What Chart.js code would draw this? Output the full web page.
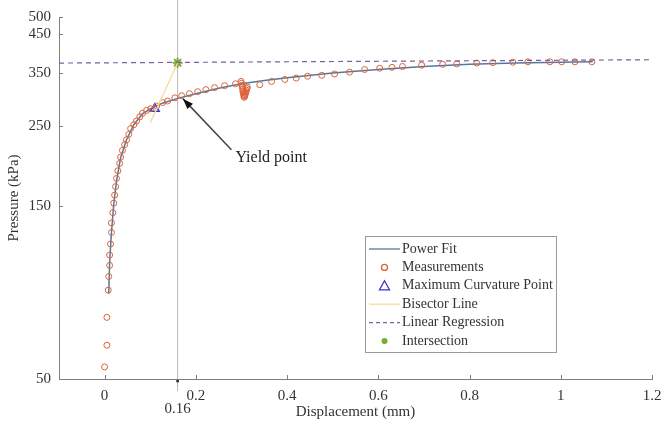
<!DOCTYPE html>
<html>
<head>
<meta charset="utf-8">
<script src="https://cdn.jsdelivr.net/npm/chart.js@4.4.0/dist/chart.umd.min.js"></script>
<style>
  body { margin: 0; background: #fff; }
  #wrap { width: 665px; height: 435px; }
</style>
</head>
<body>
<div id="wrap"><canvas id="myChart" width="665" height="435"></canvas></div>
<script>
// displacement (mm) / pressure (kPa)
var measX = [0.000, 0.005, 0.005, 0.008, 0.009, 0.011, 0.011, 0.013, 0.015, 0.015, 0.018, 0.020, 0.022, 0.024, 0.026, 0.029,
  0.033, 0.035, 0.039, 0.044, 0.048, 0.053, 0.057, 0.064, 0.070, 0.077, 0.083, 0.092, 0.101, 0.114, 0.127, 0.138,
  0.154, 0.169, 0.186, 0.204, 0.222, 0.241, 0.263, 0.287,
  0.299, 0.300, 0.301, 0.302, 0.303, 0.303, 0.304, 0.305, 0.305, 0.306, 0.307, 0.308, 0.309, 0.310, 0.311, 0.312, 0.313,
  0.340, 0.366, 0.395, 0.420, 0.445, 0.476, 0.504, 0.537, 0.570, 0.603, 0.630, 0.653, 0.695, 0.741, 0.772,
  0.816, 0.851, 0.895, 0.928, 0.976, 1.002, 1.031, 1.068];
var measY = [54, 62, 74, 88, 96, 103, 110, 118, 127, 135, 144, 153, 161, 170, 179, 188,
  197, 205, 214, 222, 229, 237, 246, 252, 258, 265, 271, 276, 279, 284, 290, 293,
  299, 303, 307, 311, 315, 319, 323, 327,
  332, 328, 324, 320, 316, 312, 309, 306, 303, 300, 302, 305, 308, 311, 314, 317, 320,
  325, 332, 336, 339, 343, 345, 348, 352, 358, 361, 363, 365, 368, 370, 371,
  373, 374, 375, 376, 376, 376, 376, 376];

var fitX = [0.009, 0.011, 0.015, 0.020, 0.026, 0.035, 0.048, 0.064, 0.083, 0.101, 0.127, 0.160, 0.200, 0.250, 0.300, 0.350,
  0.400, 0.500, 0.600, 0.700, 0.800, 0.900, 1.000, 1.070];
var fitY = [86, 105, 127, 152, 176, 204, 229, 252, 270, 279, 289, 298, 307, 318, 327, 334,
  340, 350, 358, 365, 370, 373, 375, 376];

var maxCurv = [0.11, 279];
var bisectX = [0.10, 0.16];
var bisectY = [255, 373];
var regX = [-0.1, 1.2];
var regY = [373, 381];
var intersect = [0.16, 374];
var yieldX = 0.16;

var xTicks = [0, 0.2, 0.4, 0.6, 0.8, 1, 1.2];
var yTicks = [50, 150, 250, 350, 450, 500];

function pts(xs, ys) {
  return xs.map(function(x, i) { return {x: x, y: ys[i]}; });
}

var serif = "'Liberation Serif', 'DejaVu Serif', serif";
var cFit = '#5577a0';
var cMeas = '#dc623a';
var cTri = '#3a2fd0';
var cBis = '#f1dd9c';
var cReg = '#7f5f9a';
var cInt = '#77ac30';

var overlay = {
  id: 'overlay',
  beforeDatasetsDraw: function(chart) {
    var ctx = chart.ctx, xs = chart.scales.x;
    var px = xs.getPixelForValue(yieldX);
    ctx.save();
    ctx.strokeStyle = '#b8b8b8';
    ctx.lineWidth = 1;
    ctx.beginPath();
    ctx.moveTo(px, 0);
    ctx.lineTo(px, chart.chartArea.bottom + 12);
    ctx.stroke();
    ctx.restore();
  },
  afterDraw: function(chart) {
    var ctx = chart.ctx, xs = chart.scales.x, ys = chart.scales.y, a = chart.chartArea;
    ctx.save();
    // inward tick marks
    ctx.strokeStyle = '#808080';
    ctx.lineWidth = 1;
    xTicks.forEach(function(v) {
      var p = Math.round(xs.getPixelForValue(v)) + 0.5;
      ctx.beginPath(); ctx.moveTo(p, a.bottom); ctx.lineTo(p, a.bottom - 4); ctx.stroke();
    });
    yTicks.forEach(function(v) {
      var p = Math.round(ys.getPixelForValue(v)) + 0.5;
      ctx.beginPath(); ctx.moveTo(a.left, p); ctx.lineTo(a.left + 4, p); ctx.stroke();
    });
    // 0.16 marker
    var px = xs.getPixelForValue(yieldX);
    ctx.fillStyle = '#333';
    ctx.beginPath(); ctx.arc(px, a.bottom + 2, 1.5, 0, Math.PI * 2); ctx.fill();
    ctx.font = '15px ' + serif;
    ctx.textAlign = 'center';
    ctx.textBaseline = 'middle';
    ctx.fillText('0.16', px, a.bottom + 30);

    // yield point arrow
    var tx = xs.getPixelForValue(0.172), ty = ys.getPixelForValue(297);
    var sx = xs.getPixelForValue(0.278), sy = ys.getPixelForValue(215);
    ctx.strokeStyle = '#444';
    ctx.lineWidth = 1.5;
    ctx.beginPath(); ctx.moveTo(sx, sy); ctx.lineTo(tx, ty); ctx.stroke();
    var ang = Math.atan2(ty - sy, tx - sx);
    ctx.fillStyle = '#111';
    ctx.beginPath();
    ctx.moveTo(tx, ty);
    ctx.lineTo(tx - 11 * Math.cos(ang - 0.35), ty - 11 * Math.sin(ang - 0.35));
    ctx.lineTo(tx - 11 * Math.cos(ang + 0.35), ty - 11 * Math.sin(ang + 0.35));
    ctx.closePath(); ctx.fill();
    ctx.fillStyle = '#222';
    ctx.font = '16px ' + serif;
    ctx.textAlign = 'left';
    ctx.fillText('Yield point', sx + 4, ys.getPixelForValue(204));

    // legend box
    var lx = 365, ly = 236, lw = 191, lh = 116;
    ctx.fillStyle = '#fff';
    ctx.fillRect(lx, ly, lw, lh);
    ctx.strokeStyle = '#9a9a9a';
    ctx.lineWidth = 1;
    ctx.strokeRect(lx + 0.5, ly + 0.5, lw, lh);
    var rows = ['Power Fit', 'Measurements', 'Maximum Curvature Point', 'Bisector Line', 'Linear Regression', 'Intersection'];
    ctx.font = '14px ' + serif;
    ctx.textBaseline = 'middle';
    rows.forEach(function(t, i) {
      var y = ly + 13 + i * 18.4;
      var x0 = lx + 4, x1 = lx + 35, xm = (x0 + x1) / 2;
      ctx.lineWidth = 1.3;
      if (i === 0) { ctx.strokeStyle = cFit; ctx.beginPath(); ctx.moveTo(x0, y); ctx.lineTo(x1, y); ctx.stroke(); }
      if (i === 1) { ctx.strokeStyle = cMeas; ctx.beginPath(); ctx.arc(xm, y, 3, 0, Math.PI * 2); ctx.stroke(); }
      if (i === 2) { ctx.strokeStyle = cTri; ctx.beginPath(); ctx.moveTo(xm, y - 5); ctx.lineTo(xm + 5, y + 4); ctx.lineTo(xm - 5, y + 4); ctx.closePath(); ctx.stroke(); }
      if (i === 3) { ctx.strokeStyle = cBis; ctx.beginPath(); ctx.moveTo(x0, y); ctx.lineTo(x1, y); ctx.stroke(); }
      if (i === 4) { ctx.strokeStyle = cReg; ctx.setLineDash([4, 3]); ctx.beginPath(); ctx.moveTo(x0, y); ctx.lineTo(x1, y); ctx.stroke(); ctx.setLineDash([]); }
      if (i === 5) { ctx.fillStyle = cInt; ctx.beginPath(); ctx.arc(xm, y, 3, 0, Math.PI * 2); ctx.fill(); }
      ctx.fillStyle = '#333';
      ctx.fillText(t, lx + 37, y);
    });
    ctx.restore();
  }
};

new Chart(document.getElementById('myChart'), {
  type: 'scatter',
  data: {
    datasets: [
      { label: 'Bisector Line', data: pts(bisectX, bisectY), showLine: true, borderColor: cBis, borderWidth: 1.3, pointRadius: 0 },
      { label: 'Linear Regression', data: pts(regX, regY), showLine: true, borderColor: cReg, borderWidth: 1.2, borderDash: [5, 4], pointRadius: 0 },
      { label: 'Measurements', data: pts(measX, measY), showLine: false, borderColor: cMeas, backgroundColor: 'rgba(0,0,0,0)', borderWidth: 1, pointRadius: 3 },
      { label: 'Power Fit', data: pts(fitX, fitY), showLine: true, borderColor: cFit, borderWidth: 1.5, pointRadius: 0 },
      { label: 'Maximum Curvature Point', data: [{x: maxCurv[0], y: maxCurv[1]}], pointStyle: 'triangle', borderColor: cTri, backgroundColor: 'rgba(0,0,0,0)', borderWidth: 1.5, pointRadius: 5 },
      { label: 'Intersection', data: [{x: intersect[0], y: intersect[1]}], pointStyle: 'star', borderColor: cInt, backgroundColor: cInt, borderWidth: 2, pointRadius: 5 }
    ]
  },
  options: {
    responsive: false,
    animation: false,
    layout: { padding: { left: 0, right: 13, top: 17, bottom: 0 } },
    plugins: { legend: { display: false }, tooltip: { enabled: false } },
    scales: {
      x: {
        type: 'linear', min: -0.1, max: 1.2,
        afterBuildTicks: function(s) { s.ticks = xTicks.map(function(v) { return {value: v}; }); },
        afterFit: function(s) { s.height = 56; },
        grid: { display: false },
        border: { display: true, color: '#808080' },
        ticks: { color: '#333', font: { family: serif, size: 15 }, padding: 0, maxRotation: 0, callback: function(v) { return String(v); } },
        title: { display: true, text: 'Displacement (mm)', color: '#333', font: { family: serif, size: 15 }, padding: { top: 0, bottom: 14 } }
      },
      y: {
        type: 'logarithmic', min: 50, max: 500,
        afterBuildTicks: function(s) { s.ticks = yTicks.map(function(v) { return {value: v}; }); },
        afterFit: function(s) { s.width = 59; },
        grid: { display: false },
        border: { display: true, color: '#808080' },
        ticks: { color: '#333', font: { family: serif, size: 15 }, padding: 0, callback: function(v) { return String(v); } },
        title: { display: true, text: 'Pressure (kPa)', color: '#333', font: { family: serif, size: 15 }, padding: { top: 5, bottom: 0 } }
      }
    }
  },
  plugins: [overlay]
});
</script>
</body>
</html>
